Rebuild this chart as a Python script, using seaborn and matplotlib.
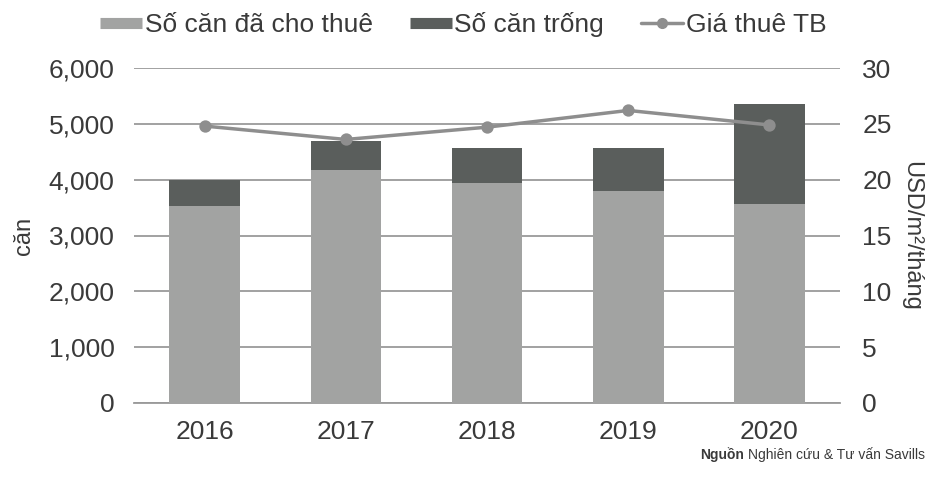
import numpy as np
import pandas as pd
import matplotlib
matplotlib.use("Agg")
import matplotlib.pyplot as plt
import seaborn as sns
from matplotlib.lines import Line2D

years = ["2016", "2017", "2018", "2019", "2020"]
rented = [3520, 4170, 3940, 3790, 3570]   # Số căn đã cho thuê
vacant = [480, 520, 630, 780, 1780]        # Số căn trống
price = [24.8, 23.6, 24.7, 26.2, 24.9]     # Giá thuê TB (USD/m2/tháng)

df = pd.DataFrame({"year": years, "rented": rented, "vacant": vacant, "price": price})
df["total"] = df["rented"] + df["vacant"]

sns.set_style("white")
plt.rcParams["font.family"] = ["Liberation Sans", "DejaVu Sans"]
txt = "#3a3a3a"
c_light = "#a2a3a2"
c_dark = "#5a5e5c"
c_line = "#8e8e8e"
c_grid = "#9a9a9a"
fs = 19

fig = plt.figure(figsize=(9.31, 4.78), dpi=100)
ax = fig.add_axes([134 / 931, 75 / 478, 706 / 931, 335 / 478])

sns.barplot(data=df, x="year", y="total", color=c_dark, width=0.5, saturation=1,
            linewidth=0, ax=ax, zorder=2)
sns.barplot(data=df, x="year", y="rented", color=c_light, width=0.5, saturation=1,
            linewidth=0, ax=ax, zorder=3)

ax.set_ylim(0, 6000)
ax.set_yticks(range(0, 6001, 1000))
ax.set_yticklabels([f"{v:,}" for v in range(0, 6001, 1000)])
ax.yaxis.grid(True, color=c_grid, lw=1.3)
ax.set_axisbelow(True)
for s in ["top", "right", "left"]:
    ax.spines[s].set_visible(False)
ax.spines["bottom"].set_color(c_grid)
ax.spines["bottom"].set_linewidth(1.3)
ax.set_xlabel("")
ax.set_ylabel("căn", fontsize=17, color=txt, labelpad=10)
ax.tick_params(axis="y", length=0, labelsize=fs, colors=txt, pad=14)
ax.tick_params(axis="x", length=0, labelsize=fs, colors=txt, pad=12)
ax.set_xticks(np.arange(-0.5, 5, 1), minor=True)
ax.tick_params(axis="x", which="minor", length=5, color=c_grid, width=1.3)

ax2 = ax.twinx()
sns.pointplot(data=df, x="year", y="price", color=c_line, markers="o", markersize=7,
              linewidth=2.5, ax=ax2)
ax2.set_ylim(0, 30)
ax2.set_yticks(range(0, 31, 5))
for s in ["top", "right", "left", "bottom"]:
    ax2.spines[s].set_visible(False)
ax2.tick_params(axis="y", length=0, labelsize=fs, colors=txt, pad=16)
ax2.set_ylabel("USD/m²/tháng", fontsize=17, color=txt, rotation=270, labelpad=22)
ax2.set_xlim(-0.5, 4.5)

handles = [
    Line2D([], [], color=c_light, lw=8, solid_capstyle="butt"),
    Line2D([], [], color=c_dark, lw=8, solid_capstyle="butt"),
    Line2D([], [], color=c_line, lw=2.5, marker="o", markersize=7),
]
labels = ["Số căn đã cho thuê", "Số căn trống", "Giá thuê TB"]
fig.legend(handles, labels, loc="upper left", bbox_to_anchor=(76 / 931, 1.025), ncol=3,
           frameon=False, fontsize=fs, handlelength=1.6, handletextpad=0.1,
           columnspacing=1.4, labelcolor=txt)

src = fig.text(925 / 931, 1 - 455 / 478, "Nghiên cứu & Tư vấn Savills", fontsize=10,
               color=txt, ha="right", va="center")
fig.canvas.draw()
bb = src.get_window_extent()
fig.text((bb.x0 - 4) / 931, 1 - 455 / 478, "Nguồn", fontsize=10, fontweight="bold",
         color=txt, ha="right", va="center")

fig.savefig("out.png", dpi=100, facecolor="white")
